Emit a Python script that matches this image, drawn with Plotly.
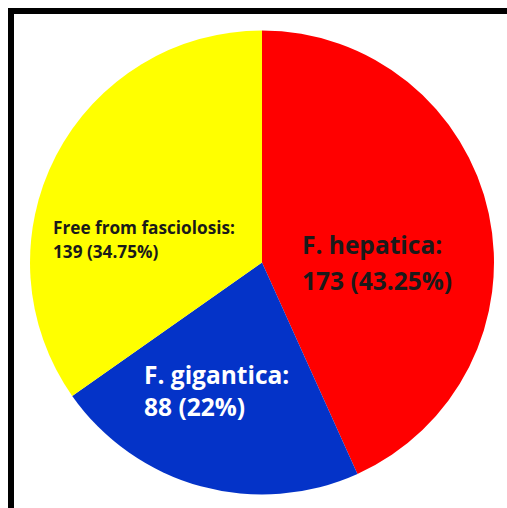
import plotly.graph_objects as go

categories = ["F. hepatica", "F. gigantica", "Free from fasciolosis"]
counts = [173, 88, 139]
percents = ["43.25%", "22%", "34.75%"]
colors = ["#FF0000", "#0433C8", "#FFFF00"]
text_colors = ["#1A1A1A", "#FFFFFF", "#1A1A1A"]
font_sizes = [24.5, 24.5, 17.2]
# label anchor positions in pixels (left x, centre y of line 1 and line 2)
label_x = [300, 142, 51]
label_y1 = [244, 374, 227]
label_y2 = [280, 406, 251]

W, H = 507, 508
cx, cy, r = 262, 262.5, 232

fig = go.Figure(go.Pie(
    labels=categories,
    values=counts,
    sort=False,
    direction="clockwise",
    rotation=0,
    marker=dict(colors=colors, line=dict(width=0)),
    textinfo="none",
    hoverinfo="label+value+percent",
    showlegend=False,
    domain=dict(x=[(cx - r) / W, (cx + r) / W],
                y=[(H - cy - r) / H, (H - cy + r) / H]),
))

for i, cat in enumerate(categories):
    lines = [(label_y1[i], f"<b>{cat}:</b>"),
             (label_y2[i], f"<b>{counts[i]} ({percents[i]})</b>")]
    for yy, txt in lines:
        fig.add_annotation(
            x=label_x[i] / W, y=1 - yy / H, xref="paper", yref="paper",
            xanchor="left", yanchor="middle", align="left", showarrow=False,
            text=txt,
            font=dict(family="Open Sans", size=font_sizes[i], color=text_colors[i]),
        )

fig.add_shape(type="rect", xref="paper", yref="paper",
              x0=11 / W, x1=1.05, y0=-0.05, y1=1 - 11 / H,
              line=dict(color="black", width=6))

fig.update_layout(width=W, height=H, margin=dict(l=0, r=0, t=0, b=0),
                  paper_bgcolor="white", plot_bgcolor="white")
fig.write_html("out.html")
